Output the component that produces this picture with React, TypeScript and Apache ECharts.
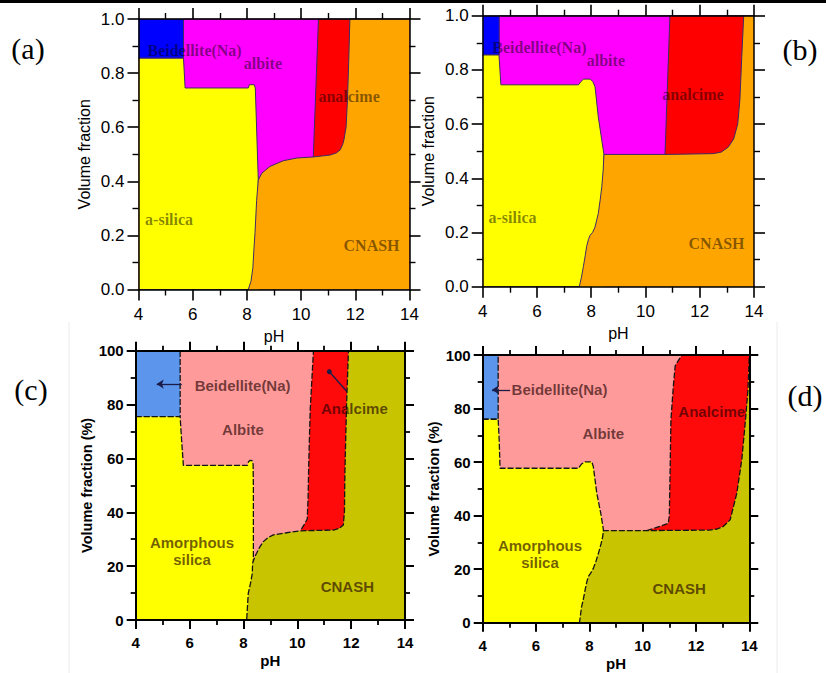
import React, { useEffect, useRef } from "react";
import * as echarts from "echarts";

type Pt = [number, number];

// ---- Panel (a): cumulative volume fraction at the top of each phase band ----
const beidelliteTopA: Pt[] = [[4, 1], [14, 1]];
const albiteTopA: Pt[] = [[4, 0.855], [5.66, 0.855], [5.66, 1], [14, 1]];
const analcimeTopA: Pt[] = [[4, 0], [10.45, 0], [10.45, 0.49], [10.64, 1], [14, 1]];
const silicaTopA: Pt[] = [
  [4, 0.855], [5.66, 0.855], [5.72, 0.745], [8.05, 0.745], [8.09, 0.757], [8.27, 0.757],
  [8.31, 0.745], [8.42, 0.405], [8.46, 0], [14, 0],
];
const cnashTopA: Pt[] = [
  [4, 0], [8.05, 0], [8.15, 0.03], [8.22, 0.08], [8.26, 0.15], [8.3, 0.21], [8.36, 0.33],
  [8.42, 0.405], [8.55, 0.43], [8.85, 0.455], [9.34, 0.476], [9.84, 0.486], [10.45, 0.49],
  [11.07, 0.497], [11.3, 0.505], [11.44, 0.516], [11.53, 0.535], [11.58, 0.553], [11.66, 0.6],
  [11.71, 0.7], [11.76, 0.85], [11.8, 1], [14, 1],
];

// ---- Panel (b) ----
const beidelliteTopB: Pt[] = [[4, 1], [14, 1]];
const albiteTopB: Pt[] = [[4, 0.855], [4.61, 0.855], [4.61, 1], [14, 1]];
const analcimeTopB: Pt[] = [[4, 0], [10.72, 0], [10.72, 0.488], [10.9, 1], [14, 1]];
const silicaTopB: Pt[] = [
  [4, 0.855], [4.6, 0.855], [4.67, 0.745], [7.53, 0.745], [7.62, 0.757], [7.72, 0.766],
  [7.96, 0.766], [8.06, 0.757], [8.14, 0.738], [8.26, 0.627], [8.39, 0.54], [8.47, 0.488],
  [8.5, 0], [14, 0],
];
const cnashTopB: Pt[] = [
  [4, 0], [7.56, 0], [7.64, 0.035], [7.71, 0.074], [7.78, 0.115], [7.83, 0.148], [7.9, 0.175],
  [7.96, 0.19], [8.05, 0.2], [8.14, 0.22], [8.26, 0.27], [8.33, 0.32], [8.39, 0.369],
  [8.44, 0.43], [8.47, 0.488], [10.72, 0.488], [12.5, 0.491], [12.8, 0.497], [13.05, 0.515],
  [13.25, 0.545], [13.4, 0.6], [13.48, 0.69], [13.55, 0.85], [13.62, 1], [14, 1],
];

// ---- Panel (c): volume fraction in % ----
const beidelliteTopC: Pt[] = [[4, 100], [14, 100]];
const albiteTopC: Pt[] = [[4, 75.5], [5.65, 75.5], [5.65, 100], [14, 100]];
const analcimeTopC: Pt[] = [
  [4, 0], [10.12, 0], [10.12, 33.2], [10.25, 35.3], [10.37, 37.5], [10.4, 45], [10.43, 60],
  [10.48, 78], [10.6, 100], [14, 100],
];
const silicaTopC: Pt[] = [
  [4, 75.5], [5.65, 75.5], [5.71, 66], [5.77, 57.4], [8.15, 57.4], [8.19, 58.8], [8.25, 59.3],
  [8.32, 59.2], [8.36, 57.8], [8.37, 50], [8.37, 21], [8.4, 0], [14, 0],
];
const cnashTopC: Pt[] = [
  [4, 0], [8.12, 0], [8.15, 5], [8.18, 9.9], [8.26, 13.5], [8.33, 17.3], [8.34, 21],
  [8.42, 23.5], [8.49, 24.8], [8.6, 27], [8.74, 29.1], [8.9, 30.5], [9.11, 31.6], [9.61, 32.4],
  [10.12, 33.1], [11.34, 33.4], [11.55, 34], [11.71, 35.3], [11.75, 40], [11.77, 55.7],
  [11.83, 80], [11.9, 100], [14, 100],
];

// ---- Panel (d) ----
const beidelliteTopD: Pt[] = [[4, 100], [14, 100]];
const albiteTopD: Pt[] = [[4, 76], [4.58, 76], [4.58, 100], [14, 100]];
const analcimeTopD: Pt[] = [
  [4, 0], [10.15, 0], [10.15, 34.4], [10.5, 35.5], [10.96, 37.1], [11.0, 40], [11.03, 57],
  [11.06, 75.7], [11.15, 88.2], [11.22, 96], [11.47, 100], [14, 100],
];
const silicaTopD: Pt[] = [
  [4, 76], [4.58, 76], [4.62, 68], [4.65, 57.7], [7.59, 57.7], [7.71, 59.3], [7.84, 60.1],
  [8.09, 60.1], [8.15, 58.3], [8.28, 48.3], [8.43, 40.8], [8.53, 34.6], [8.56, 0], [14, 0],
];
const cnashTopD: Pt[] = [
  [4, 0], [7.63, 0], [7.71, 6], [7.78, 9], [7.84, 12.2], [7.9, 15], [7.96, 17.2], [8.05, 18.5],
  [8.15, 20.3], [8.25, 23], [8.34, 25.9], [8.44, 29.5], [8.5, 32.1], [8.53, 34.4], [10.15, 34.4],
  [12.5, 34.6], [12.8, 35], [13.03, 36], [13.28, 38.4], [13.53, 48.3], [13.72, 61], [13.85, 75],
  [13.95, 87], [14, 100],
];

// Phase order: each band is filled down to zero, later bands painted over earlier ones
const phaseNames = ["Beidellite(Na)", "albite", "analcime", "a-silica", "CNASH"];

// Tick values
const pHTicks = [4, 6, 8, 10, 12, 14];
const fracTicks = [0, 0.2, 0.4, 0.6, 0.8, 1.0];
const pctTicks = [0, 20, 40, 60, 80, 100];

type Panel = {
  tag: string;
  layers: Pt[][];
  colors: string[];
  yMax: number;
  yInterval: number;
  yName: string;
  grid: { left: number; top: number; width: number; height: number };
  tagPos: [number, number];
  labels: { text: string; at: Pt }[];
  arrows?: { from: Pt; to: Pt; end: string }[];
  style: "top" | "bottom";
};

const TOP_COLORS = ["#0000ff", "#ff00ff", "#ff0000", "#ffff00", "#ffa500"];
const BOTTOM_COLORS = ["#5b95ec", "#ff9a9a", "#ff0a0a", "#ffff00", "#c8c400"];

const panels: Panel[] = [
  {
    tag: "(a)",
    layers: [beidelliteTopA, albiteTopA, analcimeTopA, silicaTopA, cnashTopA],
    colors: TOP_COLORS,
    yMax: 1,
    yInterval: 0.2,
    yName: "Volume fraction",
    grid: { left: 138.5, top: 19, width: 271, height: 270.5 },
    tagPos: [28, 48],
    labels: [
      { text: "Beidellite(Na)", at: [6.07, 0.885] },
      { text: "albite", at: [8.59, 0.837] },
      { text: "analcime", at: [11.77, 0.712] },
      { text: "a-silica", at: [5.13, 0.257] },
      { text: "CNASH", at: [12.6, 0.161] },
    ],
    style: "top",
  },
  {
    tag: "(b)",
    layers: [beidelliteTopB, albiteTopB, analcimeTopB, silicaTopB, cnashTopB],
    colors: TOP_COLORS,
    yMax: 1,
    yInterval: 0.2,
    yName: "Volume fraction",
    grid: { left: 482.7, top: 15.7, width: 271.3, height: 271 },
    tagPos: [800, 49],
    labels: [
      { text: "Beidellite(Na)", at: [6.09, 0.881] },
      { text: "albite", at: [8.54, 0.833] },
      { text: "analcime", at: [11.75, 0.711] },
      { text: "a-silica", at: [5.1, 0.257] },
      { text: "CNASH", at: [12.62, 0.161] },
    ],
    style: "top",
  },
  {
    tag: "(c)",
    layers: [beidelliteTopC, albiteTopC, analcimeTopC, silicaTopC, cnashTopC],
    colors: BOTTOM_COLORS,
    yMax: 100,
    yInterval: 20,
    yName: "Volume fraction (%)",
    grid: { left: 135.7, top: 350.7, width: 269.3, height: 269.3 },
    tagPos: [31, 389],
    labels: [
      { text: "Beidellite(Na)", at: [7.97, 86.9] },
      { text: "Albite", at: [7.98, 70.6] },
      { text: "Analcime", at: [12.12, 78.7] },
      { text: "Amorphous\nsilica", at: [6.09, 25.6] },
      { text: "CNASH", at: [11.86, 12.3] },
    ],
    arrows: [
      { from: [5.71, 87.6], to: [4.78, 87.6], end: "arrow" },
      { from: [11.9, 84.2], to: [11.19, 92.2], end: "circle" },
    ],
    style: "bottom",
  },
  {
    tag: "(d)",
    layers: [beidelliteTopD, albiteTopD, analcimeTopD, silicaTopD, cnashTopD],
    colors: BOTTOM_COLORS,
    yMax: 100,
    yInterval: 20,
    yName: "Volume fraction (%)",
    grid: { left: 482.7, top: 355, width: 266.6, height: 267.7 },
    tagPos: [805, 395],
    labels: [
      { text: "Beidellite(Na)", at: [6.88, 87] },
      { text: "Albite", at: [8.52, 70.6] },
      { text: "Analcime", at: [12.59, 78.8] },
      { text: "Amorphous\nsilica", at: [6.15, 25.6] },
      { text: "CNASH", at: [11.37, 12.7] },
    ],
    arrows: [{ from: [5.03, 87], to: [4.35, 87], end: "arrow" }],
    style: "bottom",
  },
];

const SANS = '"Liberation Sans", Arial, sans-serif';
const SERIF = '"Liberation Serif", "Times New Roman", serif';

function buildOption() {
  const grid: any[] = [];
  const xAxis: any[] = [];
  const yAxis: any[] = [];
  const series: any[] = [];
  const graphic: any[] = [];

  panels.forEach((p, gi) => {
    const isTop = p.style === "top";
    const axisW = isTop ? 1.5 : 2;
    const labelFont = {
      fontFamily: SANS,
      fontSize: isTop ? 17 : 15,
      fontWeight: isTop ? "normal" : "bold",
      color: "#000",
    };
    grid.push({ ...p.grid, containLabel: false });

    const common: any = {
      gridIndex: gi,
      type: "value",
      z: 10,
      axisLine: { show: true, onZero: false, lineStyle: { color: "#000", width: axisW } },
      axisTick: {
        show: true,
        inside: false,
        length: isTop ? 11 : 9,
        lineStyle: { color: "#000", width: isTop ? 1.6 : 2 },
      },
      minorTick: {
        show: true,
        splitNumber: 2,
        length: isTop ? 6 : 5,
        lineStyle: { color: "#000", width: isTop ? 1.4 : 1.8 },
      },
      splitLine: { show: false },
      minorSplitLine: { show: false },
    };

    xAxis.push({
      ...common,
      position: "bottom",
      min: 4,
      max: 14,
      interval: 2,
      name: "pH",
      nameLocation: "middle",
      nameGap: isTop ? 39 : 33,
      nameTextStyle: { ...labelFont, fontSize: isTop ? 16 : 15 },
      axisLabel: {
        ...labelFont,
        margin: isTop ? 16 : 15,
        formatter: (v: number) => (pHTicks.includes(v) ? String(v) : ""),
      },
    });
    xAxis.push({
      ...common,
      position: "top",
      min: 4,
      max: 14,
      interval: 2,
      axisLabel: { show: false },
    });
    const yTicks = isTop ? fracTicks : pctTicks;
    yAxis.push({
      ...common,
      position: "left",
      min: 0,
      max: p.yMax,
      interval: p.yInterval,
      name: p.yName,
      nameLocation: "middle",
      nameGap: isTop ? 46 : 41,
      nameTextStyle: { ...labelFont, fontSize: isTop ? 16 : 14.5 },
      axisLabel: {
        ...labelFont,
        margin: isTop ? 14 : 12,
        formatter: (v: number) => {
          const hit = yTicks.find((t) => Math.abs(t - v) < 1e-9);
          if (hit === undefined) return "";
          return isTop ? hit.toFixed(1) : String(hit);
        },
      },
    });
    yAxis.push({
      ...common,
      position: "right",
      min: 0,
      max: p.yMax,
      interval: p.yInterval,
      axisLabel: { show: false },
    });

    const lineStyle = isTop
      ? { color: "#3f2a66", width: 1, type: "solid" }
      : { color: "#141414", width: 1.3, type: [6, 2] };

    p.layers.forEach((data, li) => {
      series.push({
        type: "line",
        name: phaseNames[li],
        data,
        xAxisIndex: gi * 2,
        yAxisIndex: gi * 2,
        z: 1 + li,
        symbol: "none",
        showSymbol: false,
        clip: true,
        silent: true,
        lineStyle,
        itemStyle: { color: p.colors[li] },
        areaStyle: { color: p.colors[li], opacity: 1, origin: "start" },
      });
    });

    const arrowColor = "#1c1c48";
    series.push({
      type: "scatter",
      xAxisIndex: gi * 2,
      yAxisIndex: gi * 2,
      z: 8,
      silent: true,
      symbolSize: 0,
      data: p.labels.map((l) => ({ name: l.text, value: l.at })),
      label: {
        show: true,
        position: "inside",
        formatter: "{b}",
        fontFamily: isTop ? SERIF : SANS,
        fontSize: isTop ? 16 : 15,
        fontWeight: "bold",
        color: isTop ? "rgba(0,0,0,0.62)" : "rgba(30,0,0,0.8)",
        lineHeight: 17,
        align: "center",
      },
      markLine: p.arrows
        ? {
            silent: true,
            animation: false,
            symbol: ["none", "arrow"],
            symbolSize: 7,
            label: { show: false },
            lineStyle: { color: arrowColor, width: 1.3, type: "solid" },
            data: p.arrows.map((a) => [
              { coord: a.from, symbol: "none" },
              { coord: a.to, symbol: a.end, symbolSize: a.end === "circle" ? 5 : 7 },
            ]),
          }
        : undefined,
    });

    graphic.push({
      type: "text",
      x: p.tagPos[0],
      y: p.tagPos[1],
      style: {
        text: p.tag,
        font: `30px ${SERIF}`,
        fill: "#000",
        align: "center",
        verticalAlign: "middle",
      },
    });
  });

  // rule across the top edge and faint frame edges around the lower pair
  graphic.push({ type: "rect", shape: { x: 0, y: 0, width: 826, height: 3 }, style: { fill: "#000" } });
  graphic.push({ type: "line", shape: { x1: 69, y1: 322, x2: 69, y2: 673 }, style: { stroke: "#ececec", lineWidth: 1 } });
  graphic.push({ type: "line", shape: { x1: 777, y1: 322, x2: 777, y2: 673 }, style: { stroke: "#ececec", lineWidth: 1 } });

  return {
    animation: false,
    backgroundColor: "#ffffff",
    grid,
    xAxis,
    yAxis,
    series,
    graphic,
  };
}

export default function App() {
  const ref = useRef<HTMLDivElement>(null);
  useEffect(() => {
    if (!ref.current) return;
    const chart = echarts.init(ref.current, undefined, { renderer: "svg" });
    chart.setOption(buildOption() as any);
    return () => chart.dispose();
  }, []);
  return (
    <div
      ref={ref}
      style={{ position: "fixed", left: 0, top: 0, width: 826, height: 673, background: "#fff" }}
    />
  );
}
